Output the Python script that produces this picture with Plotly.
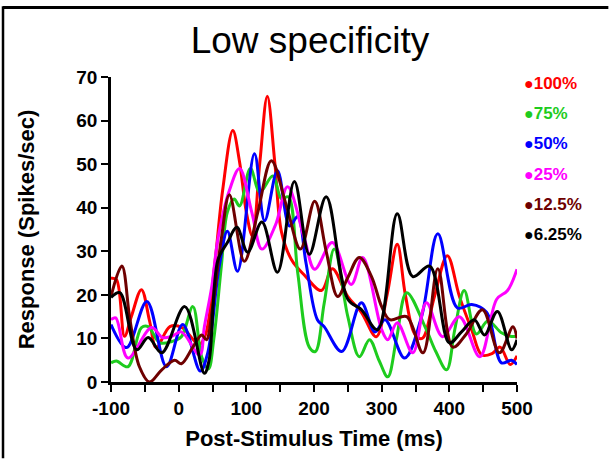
import plotly.graph_objects as go

# ---------------- data ----------------
labels = ["100%", "75%", "50%", "25%", "12.5%", "6.25%"]
colors = ["#FF0000", "#1ECC1E", "#0000FF", "#FF00FF", "#6E0000", "#000000"]

red_x = [-100, -92, -80, -70, -55, -43, -33, -13, 5, 20, 30, 40, 53, 65, 80, 90, 100, 109, 120, 131, 142, 152, 167, 186, 211, 227, 250, 270, 292, 308, 323, 335, 349, 360, 378, 397, 415, 433, 448, 463, 475, 490, 500]
red_y = [23.8, 23.5, 10.5, 15, 21.2, 14, 7.9, 12.7, 12.5, 10, 8.5, 11, 26.5, 44, 57.7, 50.5, 39, 33.5, 50.5, 65.6, 50.5, 34.4, 28, 24.5, 21, 26, 19.6, 16, 10.4, 20, 31.6, 20, 11, 10, 19.6, 29, 19.6, 12, 6.2, 6.5, 8, 4, 6]

green_x = [-100, -92, -75, -55, -45, -28, -10, 4, 21, 34, 44, 52, 63, 72, 82, 90, 106, 120, 139, 152, 162, 176, 193, 202, 215, 230, 250, 267, 282, 296, 309, 322, 337, 366, 380, 396, 408, 422, 440, 457, 477, 490, 500]
green_y = [4.4, 4.8, 3.5, 12.5, 12.7, 9, 9.3, 10.4, 17.3, 5.8, 3, 10, 26.5, 39, 42, 40.4, 49, 43.6, 47.3, 42, 42.5, 25, 8, 7, 18, 30.5, 15, 5.8, 9.7, 5, 1.2, 10, 20.5, 12, 7, 2.8, 12, 21, 11, 14, 11.3, 10.5, 10.5]

blue_x = [-100, -77, -47, -18, 6, 32, 43, 60, 72, 87, 112, 127, 146, 164, 176, 188, 205, 215, 241, 270, 290, 305, 334, 359, 383, 412, 433, 455, 477, 492, 500]
blue_y = [13.2, 7.9, 18.5, 3.5, 13.2, 2.5, 6.7, 26.6, 34.6, 25.4, 52.4, 37, 48.5, 35.8, 38, 27.5, 14.3, 12.7, 7, 18.2, 11.5, 14.3, 5.5, 15, 34, 17, 17.8, 16, 4.4, 5, 4]

magenta_x = [-100, -93, -75, -40, -24, -10, 4, 31, 38, 49, 58, 75, 90, 108, 123, 143, 161, 186, 201, 227, 255, 272, 300, 309, 323, 346, 366, 390, 415, 445, 470, 486, 500]
magenta_y = [14.3, 14.7, 5.5, 12.5, 10.2, 10.5, 11.5, 6.2, 12.7, 22, 32.8, 44, 49, 39, 30.5, 36, 44.8, 32.8, 25.9, 32, 22.4, 28.6, 12, 9.7, 13.6, 6.7, 18.2, 10.4, 15, 5.8, 19, 21, 25.9]

maroon_x = [-100, -84, -72, -58, -43, -25, -6, 4, 21, 34, 41, 50, 63, 75, 97, 117, 137, 160, 180, 201, 218, 235, 250, 267, 285, 300, 312, 337, 361, 383, 405, 425, 449, 474, 494, 500]
maroon_y = [19.6, 26.6, 14.3, 3.5, 0, 2.8, 5, 4.2, 8, 10.8, 9.7, 17, 32.8, 43, 27.7, 39, 50.8, 40, 30.5, 41.5, 30, 19.6, 24, 28.6, 24.2, 17.3, 14.3, 15, 6.7, 26, 8, 11, 16.6, 6.7, 12.7, 10]

black_x = [-100, -87, -62, -45, -25, 9, 38, 45, 58, 72, 86, 102, 123, 146, 171, 193, 218, 250, 270, 294, 323, 346, 371, 400, 418, 437, 452, 471, 492, 500]
black_y = [19.4, 20.5, 7.4, 10.2, 6.7, 17.3, 2, 5, 28, 32, 35.5, 29.8, 36.7, 25.2, 46, 29.3, 42.5, 19, 16.6, 12, 38.6, 24.2, 26.6, 9, 11.5, 14.3, 10.8, 16.2, 7.4, 9.7]

series_x = [red_x, green_x, blue_x, magenta_x, maroon_x, black_x]
series_y = [red_y, green_y, blue_y, magenta_y, maroon_y, black_y]

x_tickvals = [-100, -50, 0, 50, 100, 150, 200, 250, 300, 350, 400, 450, 500]
x_ticktext = ["-100", "", "0", "", "100", "", "200", "", "300", "", "400", "", "500"]
y_tickvals = [0, 10, 20, 30, 40, 50, 60, 70]

FONT = "Liberation Sans, Arial, Helvetica, sans-serif"

fig = go.Figure()
for xs, ys, lab, col in zip(series_x, series_y, labels, colors):
    fig.add_trace(go.Scatter(
        x=xs, y=ys, name=lab, mode="lines",
        line=dict(color=col, width=3, shape="spline", smoothing=1.0),
        showlegend=False, cliponaxis=True,
    ))

# legend drawn as annotations: dot + coloured label
for i, (lab, col) in enumerate(zip(labels, colors)):
    fig.add_annotation(
        xref="paper", yref="paper", x=1.013, y=0.98 - i * 0.0995,
        xanchor="left", yanchor="middle", showarrow=False,
        text='<span style="font-size:16px">●</span>' + lab,
        font=dict(family=FONT, size=17, color=col, weight="bold"),
    )

# partial frame (top and left edges visible in the reference)
fig.add_shape(type="line", xref="paper", yref="paper",
              x0=-0.266, x1=1.225, y0=1.228, y1=1.228,
              line=dict(color="black", width=3))
fig.add_shape(type="line", xref="paper", yref="paper",
              x0=-0.266, x1=-0.266, y0=-0.25, y1=1.232,
              line=dict(color="black", width=2.5))

fig.update_layout(
    width=609, height=459,
    margin=dict(l=111, r=92, t=77, b=77),
    paper_bgcolor="white", plot_bgcolor="white",
    title=dict(text="Low specificity", x=0.49, xref="paper", xanchor="center",
               y=1 - 40 / 459, yref="container", yanchor="middle",
               font=dict(family=FONT, size=37, color="black")),
    xaxis=dict(range=[-100, 500], tickvals=x_tickvals, ticktext=x_ticktext,
               showline=True, linecolor="black", linewidth=2.5,
               ticks="outside", ticklen=7, tickwidth=2, tickcolor="black",
               showgrid=False, zeroline=False,
               tickfont=dict(family=FONT, size=19, color="black", weight="bold"),
               title=dict(text="Post-Stimulus Time (ms)", standoff=14,
                          font=dict(family=FONT, size=22, color="black", weight="bold"))),
    yaxis=dict(range=[0, 70], tickvals=y_tickvals,
               showline=True, linecolor="black", linewidth=2.5,
               ticks="outside", ticklen=7, tickwidth=2, tickcolor="black",
               showgrid=False, zeroline=False,
               tickfont=dict(family=FONT, size=19, color="black", weight="bold"),
               title=dict(text="Response (Spikes/sec)", standoff=36,
                          font=dict(family=FONT, size=22, color="black", weight="bold"))),
)

fig.write_html("out.html", config={"displayModeBar": False},
               post_script="document.body.style.margin='0';")
